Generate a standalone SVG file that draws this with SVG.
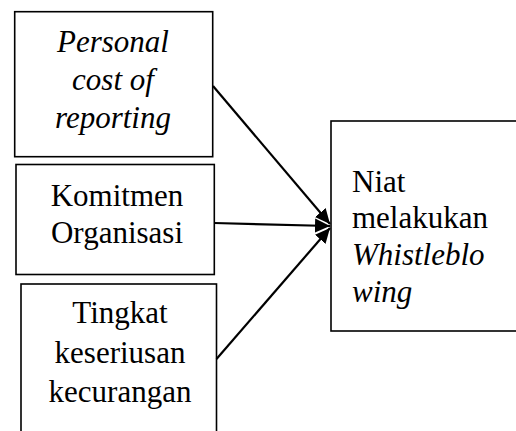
<svg xmlns="http://www.w3.org/2000/svg" width="516" height="431" viewBox="0 0 516 431">
<style>
.box{fill:#fff;stroke:#000;stroke-width:1.6}
.t{font-family:'Liberation Serif','Times New Roman',Times,'DejaVu Serif',serif;font-size:31px;fill:#000}
.c{text-anchor:middle}
.i{font-style:italic}
.conn{stroke:#000;stroke-width:2.2;fill:none}
</style>
<defs>
<marker id="arr" markerUnits="userSpaceOnUse" markerWidth="16" markerHeight="16" refX="15" refY="8" orient="auto">
<path d="M0,1 L15,8 L0,15 Z" fill="#000"/>
</marker>
</defs>
<rect width="516" height="431" fill="#fff"/>
<g id="n1">
<rect class="box" x="14.7" y="11.7" width="198" height="145"/>
<text class="t c i" x="113" y="52" font-family="Liberation Serif, serif">Personal</text>
<text class="t c i" x="113" y="90" font-family="Liberation Serif, serif">cost of</text>
<text class="t c i" x="113" y="128" font-family="Liberation Serif, serif">reporting</text>
</g>
<g id="n2">
<rect class="box" x="16" y="164.5" width="198.3" height="110"/>
<text class="t c" x="117" y="206">Komitmen</text>
<text class="t c" x="117" y="243">Organisasi</text>
</g>
<g id="n3">
<rect class="box" x="21" y="284" width="195.5" height="160"/>
<text class="t c" x="120" y="323">Tingkat</text>
<text class="t c" x="120" y="363">keseriusan</text>
<text class="t c" x="120" y="402">kecurangan</text>
</g>
<g id="n4">
<rect class="box" x="331" y="121" width="200" height="210"/>
<text class="t" x="352" y="192">Niat</text>
<text class="t" x="352" y="228">melakukan</text>
<text class="t i" x="352" y="265">Whistleblo</text>
<text class="t i" x="352" y="302">wing</text>
</g>
<g id="connectors">
<line class="conn" x1="213" y1="86" x2="330" y2="224" marker-end="url(#arr)"/>
<line class="conn" x1="214.3" y1="223" x2="330" y2="226" marker-end="url(#arr)"/>
<line class="conn" x1="216.5" y1="359" x2="330" y2="228" marker-end="url(#arr)"/>
</g>
</svg>
